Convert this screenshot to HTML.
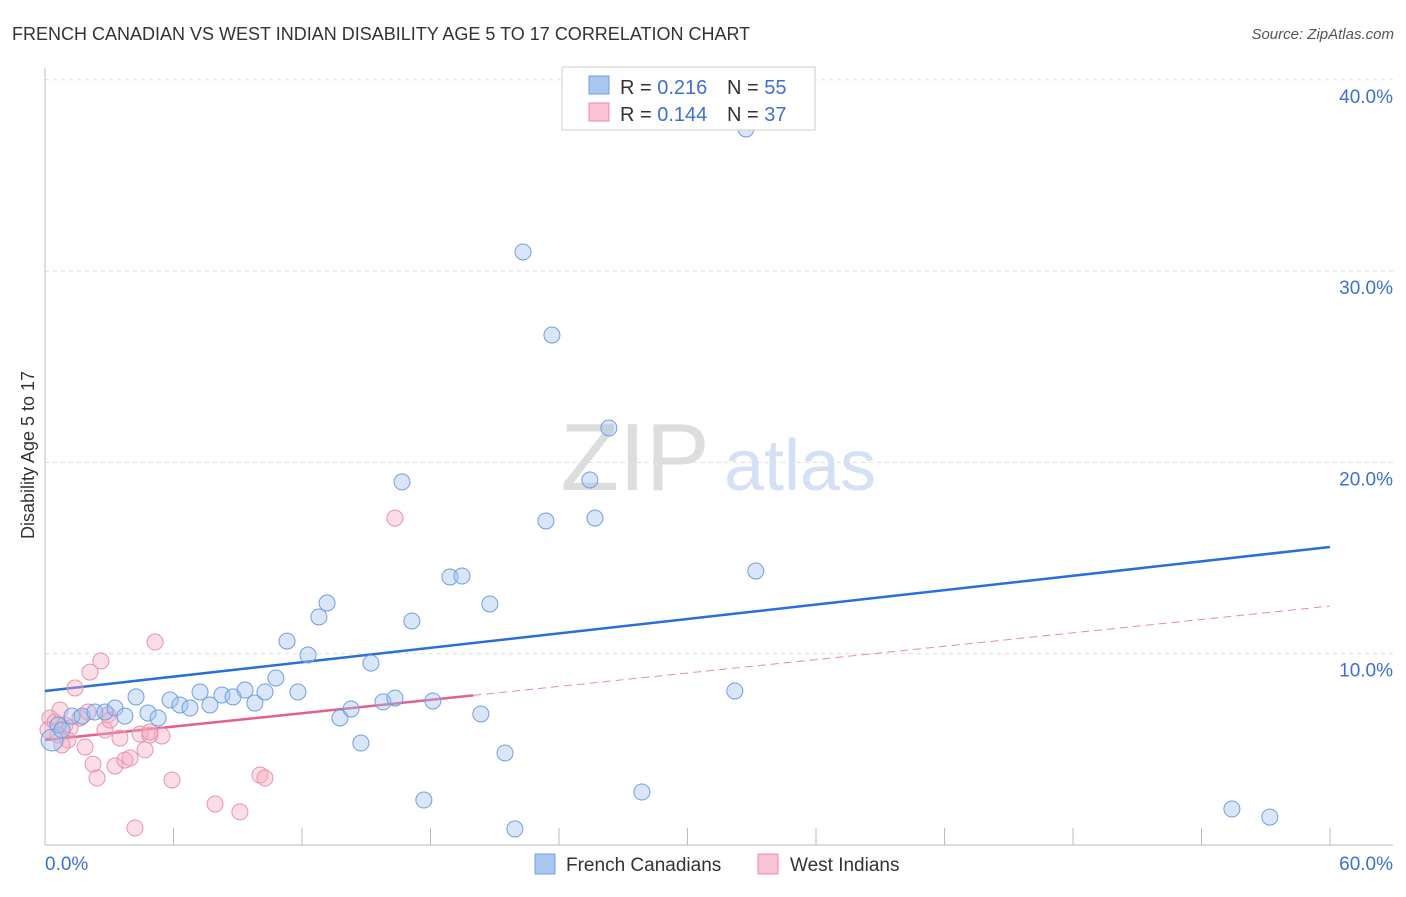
<!DOCTYPE html>
<html><head><meta charset="utf-8"><style>
body{margin:0;background:#fff;font-family:"Liberation Sans",sans-serif;}
svg text{font-family:"Liberation Sans",sans-serif;}
</style></head><body>
<svg id="chart" width="1406" height="892" xmlns="http://www.w3.org/2000/svg">
<text x="12" y="40" font-size="18" fill="#333">FRENCH CANADIAN VS WEST INDIAN DISABILITY AGE 5 TO 17 CORRELATION CHART</text>
<text x="1394" y="39" font-size="15" fill="#555" text-anchor="end" font-style="italic">Source: ZipAtlas.com</text>
<g>
<text x="635" y="490" font-size="96" fill="#ddd" text-anchor="middle" font-family="Liberation Serif,serif">ZIP</text>
<text x="800" y="490" font-size="72" fill="#d4e1f5" text-anchor="middle">atlas</text>
</g>
<text transform="translate(34,455) rotate(-90)" font-size="18" fill="#333" text-anchor="middle">Disability Age 5 to 17</text>
<g id="grid"></g><g id="axes"></g><g id="lines"></g><g id="points"></g>
<g>
<rect x="562" y="67" width="253" height="63" fill="#fff" stroke="#ccc"/>
<rect x="589" y="76" width="20" height="18" fill="#a9c6ef" stroke="#6f9fe0"/>
<rect x="589" y="103" width="20" height="18" fill="#f8c3d2" stroke="#e98aa6"/>
<text x="620" y="94" font-size="20" fill="#333">R = <tspan fill="#3d70d0">0.216</tspan></text>
<text x="727" y="94" font-size="20" fill="#333">N = <tspan fill="#3d70d0">55</tspan></text>
<text x="620" y="121" font-size="20" fill="#333">R = <tspan fill="#3d70d0">0.144</tspan></text>
<text x="727" y="121" font-size="20" fill="#333">N = <tspan fill="#3d70d0">37</tspan></text>
</g>
<g>
<rect x="535" y="854" width="20" height="20" fill="#a9c6ef" stroke="#6f9fe0"/>
<text x="566" y="871" font-size="19" fill="#333">French Canadians</text>
<rect x="758" y="854" width="20" height="20" fill="#f8c3d2" stroke="#e98aa6"/>
<text x="790" y="871" font-size="19" fill="#333">West Indians</text>
</g>
</svg>
<script>
const blueX=[0.33,0.61,0.79,1.26,1.73,2.33,2.80,3.27,3.73,4.25,4.81,5.28,5.84,6.30,6.77,7.24,7.70,8.26,8.78,9.34,9.80,10.27,10.78,11.30,11.81,12.28,12.79,13.17,13.77,14.29,14.75,15.22,15.78,16.34,16.67,17.13,17.69,18.11,18.91,19.47,20.35,20.77,21.48,21.94,22.32,23.39,23.67,25.44,25.68,26.33,27.87,32.21,32.73,33.19,55.42,57.19];
const blueY=[5.49,6.27,6.01,6.74,6.74,6.95,6.95,7.16,6.74,7.74,6.90,6.64,7.58,7.32,7.16,8.00,7.32,7.84,7.74,8.10,7.42,8.00,8.73,10.66,8.00,9.93,11.92,12.65,6.64,7.11,5.33,9.51,7.48,7.68,18.98,11.71,2.35,7.53,14.01,14.06,6.85,12.60,4.81,0.84,31.0,16.94,26.66,19.08,17.09,21.80,2.77,8.05,37.43,14.32,1.88,1.46];
const pinkX=[0.23,0.47,0.70,0.93,1.17,1.40,1.63,1.87,2.10,2.24,2.43,2.61,2.80,2.94,3.27,3.50,3.73,4.20,4.44,4.67,4.90,5.14,5.46,5.93,7.94,9.10,10.04,10.27,16.34,1.07,0.61,3.03,2.01,0.14,0.79,3.97,4.90];
const pinkY=[6.64,6.43,7.06,6.27,6.12,8.21,6.64,5.12,9.04,4.23,3.50,9.62,6.01,6.80,4.13,5.59,4.44,0.89,5.80,4.97,5.75,10.61,5.70,3.40,2.14,1.73,3.66,3.50,17.09,5.49,5.75,6.53,6.95,6.01,5.23,4.55,5.91];
const blueTrend=[8.05,15.58]; // y at x=0 and x=60
const pinkTrend=[5.49,12.49]; // y at x=0 and x=60
const pinkSolidEnd=[20.0];
const yTicks=[10,20,30,40];
const yTickLabels=["10.0%","20.0%","30.0%","40.0%"];
const xTicks=[0,6,12,18,24,30,36,42,48,54,60];
const NS="http://www.w3.org/2000/svg";
const X=v=>45+v*(1285/60);
const Y=v=>845-v*19.13;
function mk(t,a,p){const e=document.createElementNS(NS,t);for(const k in a)e.setAttribute(k,a[k]);p.appendChild(e);return e;}
const grid=document.getElementById('grid'),axes=document.getElementById('axes'),lines=document.getElementById('lines'),pts=document.getElementById('points');
yTicks.forEach((t,i)=>{
 const l=mk('line',{x1:45,x2:1393,y1:Y(t),y2:Y(t),stroke:'#ddd','stroke-dasharray':'4,4'},grid);
 
 
 const tx=mk('text',{x:1393,y:Y(t)+23,'font-size':19,fill:'#3d70d0','text-anchor':'end'},axes);
 tx.textContent=yTickLabels[i];
 
 
});
const ax=mk('line',{x1:45,x2:1393,y1:845,y2:845,stroke:'#bbb'},axes);


const ay=mk('line',{x1:45,x2:45,y1:68,y2:845,stroke:'#bbb'},axes);


xTicks.forEach(t=>{const l=mk('line',{x1:X(t),x2:X(t),y1:828,y2:845,stroke:'#bbb'},axes);
 
 });
const xl0=mk('text',{x:45,y:870,'font-size':19,fill:'#3d70d0'},axes);xl0.textContent='0.0%';


const xl1=mk('text',{x:1393,y:870,'font-size':19,fill:'#3d70d0','text-anchor':'end'},axes);xl1.textContent='60.0%';


pinkX.forEach((x,i)=>{const c=mk('circle',{cx:X(x),cy:Y(pinkY[i]),r:8,fill:'rgba(245,170,192,0.4)',stroke:'#ea93ad','stroke-width':1},pts);
 
 });
blueX.forEach((x,i)=>{const c=mk('circle',{cx:X(x),cy:Y(blueY[i]),r:i==0?11:8,fill:'rgba(160,192,238,0.4)',stroke:'#6f9fe0','stroke-width':1},pts);
 
 });
const pAt=x=>pinkTrend[0]+(pinkTrend[1]-pinkTrend[0])*x/60;
const bl=mk('line',{x1:X(0),y1:Y(blueTrend[0]),x2:X(60),y2:Y(blueTrend[1]),stroke:'#2a6fd6','stroke-width':2.5},lines);


const pd=mk('line',{x1:X(pinkSolidEnd[0]),y1:Y(pAt(pinkSolidEnd[0])),x2:X(60),y2:Y(pinkTrend[1]),stroke:'#e98aa6','stroke-width':1,'stroke-dasharray':'8,5'},lines);


const ps=mk('line',{x1:X(0),y1:Y(pinkTrend[0]),x2:X(pinkSolidEnd[0]),y2:Y(pAt(pinkSolidEnd[0])),stroke:'#e2608a','stroke-width':2.5},lines);


</script>
</body></html>
